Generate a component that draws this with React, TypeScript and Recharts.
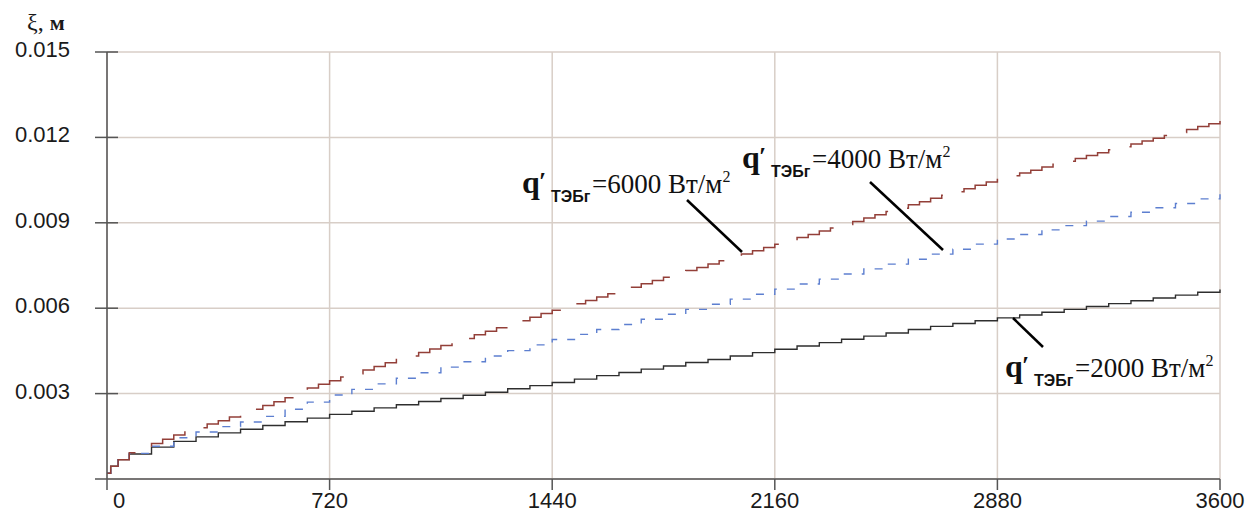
import React from 'react';
import { LineChart, Line, XAxis, YAxis, CartesianGrid } from 'recharts';

// time, s (2000 and 4000 curves)
const T = [
  0, 12, 36, 72, 144, 216, 288, 360, 432, 504, 576, 648, 720, 792, 864, 936, 1008, 1080, 1152,
  1224, 1296, 1368, 1440, 1512, 1584, 1656, 1728, 1800, 1872, 1944, 2016, 2088, 2160, 2232,
  2304, 2376, 2448, 2520, 2592, 2664, 2736, 2808, 2880, 2952, 3024, 3096, 3168, 3240, 3312,
  3384, 3456, 3528, 3600,
];

// ξ, m  for q' = 2000 W/m2
const XI_2000 = [
  0.0002, 0.00045, 0.00068, 0.00088, 0.00112, 0.00132, 0.00148, 0.00162, 0.00175, 0.00188,
  0.00201, 0.00214, 0.00227, 0.00238, 0.0025, 0.00261, 0.00272, 0.00283, 0.00294, 0.00305,
  0.00317, 0.00328, 0.00339, 0.00351, 0.00363, 0.00374, 0.00386, 0.00397, 0.00409, 0.0042,
  0.00432, 0.00444, 0.00456, 0.00467, 0.00479, 0.00491, 0.00502, 0.00513, 0.00525, 0.00536,
  0.00546, 0.00556, 0.00566, 0.00576, 0.00586, 0.00596, 0.00606, 0.00616, 0.00626, 0.00636,
  0.00646, 0.00656, 0.00666,
];

// q' = 4000 W/m2
const XI_4000 = [
  0.0002, 0.00045, 0.00068, 0.0009, 0.00115, 0.00145, 0.00165, 0.00184, 0.002, 0.0022,
  0.00245, 0.0027, 0.00295, 0.00315, 0.00334, 0.00354, 0.00373, 0.00393, 0.00412, 0.00432,
  0.00451, 0.00471, 0.0049, 0.00508, 0.00525, 0.00543, 0.00561, 0.00579, 0.00596, 0.00614,
  0.00632, 0.00649, 0.00667, 0.00685, 0.00702, 0.0072, 0.00738, 0.00755, 0.00772, 0.0079,
  0.00807, 0.00825, 0.00843, 0.00859, 0.00875, 0.0089, 0.00906, 0.00922, 0.00937, 0.00953,
  0.00968, 0.00984, 0.01,
];

// time, s (6000 curve has finer steps)
const T_6000 = [
  0, 12, 36, 72, 108, 144, 180, 216, 252, 288, 324, 360, 396, 432, 468, 504, 540, 576, 612, 648,
  684, 720, 756, 792, 828, 864, 900, 936, 972, 1008, 1044, 1080, 1116, 1152, 1188, 1224, 1260,
  1296, 1332, 1368, 1404, 1440, 1476, 1512, 1548, 1584, 1620, 1656, 1692, 1728, 1764, 1800,
  1836, 1872, 1908, 1944, 1980, 2016, 2052, 2088, 2124, 2160, 2196, 2232, 2268, 2304, 2340,
  2376, 2412, 2448, 2484, 2520, 2556, 2592, 2628, 2664, 2700, 2736, 2772, 2808, 2844, 2880,
  2916, 2952, 2988, 3024, 3060, 3096, 3132, 3168, 3204, 3240, 3276, 3312, 3348, 3384, 3420,
  3456, 3492, 3528, 3564, 3600,
];

// q' = 6000 W/m2
const XI_6000 = [
  0.0002, 0.00045, 0.00068, 0.00092, 0.0011, 0.00125, 0.0014, 0.00155, 0.00168, 0.0018,
  0.00193, 0.00205, 0.00218, 0.00232, 0.00245, 0.00258, 0.00271, 0.00285, 0.00302, 0.0032,
  0.00333, 0.00345, 0.00358, 0.0037, 0.00383, 0.00395, 0.00408, 0.0042, 0.00432, 0.00444,
  0.00457, 0.00469, 0.00482, 0.00494, 0.00507, 0.00519, 0.00531, 0.00543, 0.00556, 0.00568,
  0.00581, 0.00593, 0.00604, 0.00616, 0.00627, 0.00639, 0.00651, 0.00663, 0.00674, 0.00686,
  0.00697, 0.00709, 0.0072, 0.00732, 0.00743, 0.00755, 0.00767, 0.00779, 0.0079, 0.00802,
  0.00813, 0.00825, 0.00836, 0.00848, 0.00859, 0.00871, 0.00882, 0.00894, 0.00905, 0.00917,
  0.00928, 0.0094, 0.00951, 0.00963, 0.00974, 0.00986, 0.00997, 0.01009, 0.0102, 0.01032,
  0.01043, 0.01055, 0.01065, 0.01075, 0.01085, 0.01096, 0.01106, 0.01116, 0.01126, 0.01136,
  0.01146, 0.01157, 0.01167, 0.01177, 0.01187, 0.01197, 0.01207, 0.01217, 0.01228, 0.01238,
  0.01248, 0.01258,
];

const X_TICKS = [0, 720, 1440, 2160, 2880, 3600];
const Y_TICKS = [0.003, 0.006, 0.009, 0.012, 0.015];
const Y_LABELS = ['0.003', '0.006', '0.009', '0.012', '0.015'];

const data = T_6000.map((t, i) => {
  const j = T.indexOf(t);
  return {
    t,
    q6000: XI_6000[i],
    q2000: j >= 0 ? XI_2000[j] : null,
    q4000: j >= 0 ? XI_4000[j] : null,
  };
});

const AXIS_X = 107;
const AXIS_Y = 479;
const SANS = '"Liberation Sans", Arial, sans-serif';
const SERIF = '"Liberation Serif", "Times New Roman", serif';

const YTick = ({ y, index }: any) => (
  <g>
    <line x1={AXIS_X - 12} x2={AXIS_X + 11} y1={y} y2={y} stroke="#555" strokeWidth={1.5} />
    <text x={70} y={y + 5} textAnchor="end" fontFamily={SANS} fontSize={22} fill="#1a1a1a">
      {Y_LABELS[index]}
    </text>
  </g>
);

const XTick = ({ x, payload }: any) => (
  <g>
    <line x1={x} x2={x} y1={AXIS_Y} y2={AXIS_Y + 11} stroke="#555" strokeWidth={1.5} />
    <text x={payload.value === 0 ? x + 12 : x} y={508} textAnchor="middle" fontFamily={SANS} fontSize={22} fill="#1a1a1a">
      {payload.value}
    </text>
  </g>
);

const Label = ({ x, y, value }: { x: number; y: number; value: string }) => (
  <g fill="#111">
    <text x={x} y={y} fontFamily={SERIF} fontWeight="bold" fontSize={32}>q</text>
    <text x={x + 17} y={y - 3} fontFamily={SERIF} fontWeight="bold" fontSize={26}>′</text>
    <text x={x + 29} y={y + 9} fontFamily={SANS} fontWeight="bold" fontSize={16}>ТЭБг</text>
    <text x={x + 70} y={y} fontFamily={SERIF} fontSize={27}>
      {value}
      <tspan fontSize={16} dy={-11}>2</tspan>
    </text>
  </g>
);

export default function App() {
  return (
    <div style={{ position: 'absolute', left: 0, top: 0, width: 1246, height: 513, background: '#fff' }}>
      <LineChart width={1246} height={513} data={data} margin={{ top: 52, right: 26, bottom: 0, left: 0 }}>
        <CartesianGrid stroke="#d8cec7" strokeWidth={1.5} />
        <XAxis
          dataKey="t"
          type="number"
          domain={[0, 3600]}
          ticks={X_TICKS}
          height={34}
          axisLine={{ stroke: '#555', strokeWidth: 1.5 }}
          tickLine={false}
          tick={<XTick />}
        />
        <YAxis
          type="number"
          domain={[0, 0.015]}
          ticks={Y_TICKS}
          width={107}
          axisLine={{ stroke: '#555', strokeWidth: 1.5 }}
          tickLine={false}
          tick={<YTick />}
        />
        <Line dataKey="q2000" type="stepAfter" connectNulls stroke="#2e2e2e" strokeWidth={1.4} dot={false} isAnimationActive={false} />
        <Line dataKey="q4000" type="stepAfter" connectNulls stroke="#5d7fd0" strokeWidth={1.4} strokeDasharray="8 10" dot={false} isAnimationActive={false} />
        <Line dataKey="q6000" type="stepAfter" stroke="#933f38" strokeWidth={1.5} strokeDasharray="49 22" dot={false} isAnimationActive={false} />
      </LineChart>
      <svg width={1246} height={513} style={{ position: 'absolute', left: 0, top: 0, pointerEvents: 'none' }}>
        <line x1={95} x2={AXIS_X} y1={AXIS_Y} y2={AXIS_Y} stroke="#555" strokeWidth={1.5} />
        <text x={27} y={30} fontFamily={SERIF} fontSize={24} fill="#1a1a1a">
          ξ, <tspan fontWeight="bold" fontSize={22}>м</tspan>
        </text>
        <line x1={687} y1={200} x2={742} y2={252} stroke="#000" strokeWidth={2.5} />
        <line x1={870} y1={182} x2={943} y2={250} stroke="#000" strokeWidth={2.5} />
        <line x1={1013} y1={318} x2={1043} y2={347} stroke="#000" strokeWidth={2.5} />
        <Label x={522} y={193} value="=6000 Вт/м" />
        <Label x={742} y={168} value="=4000 Вт/м" />
        <Label x={1005} y={377} value="=2000 Вт/м" />
      </svg>
    </div>
  );
}
